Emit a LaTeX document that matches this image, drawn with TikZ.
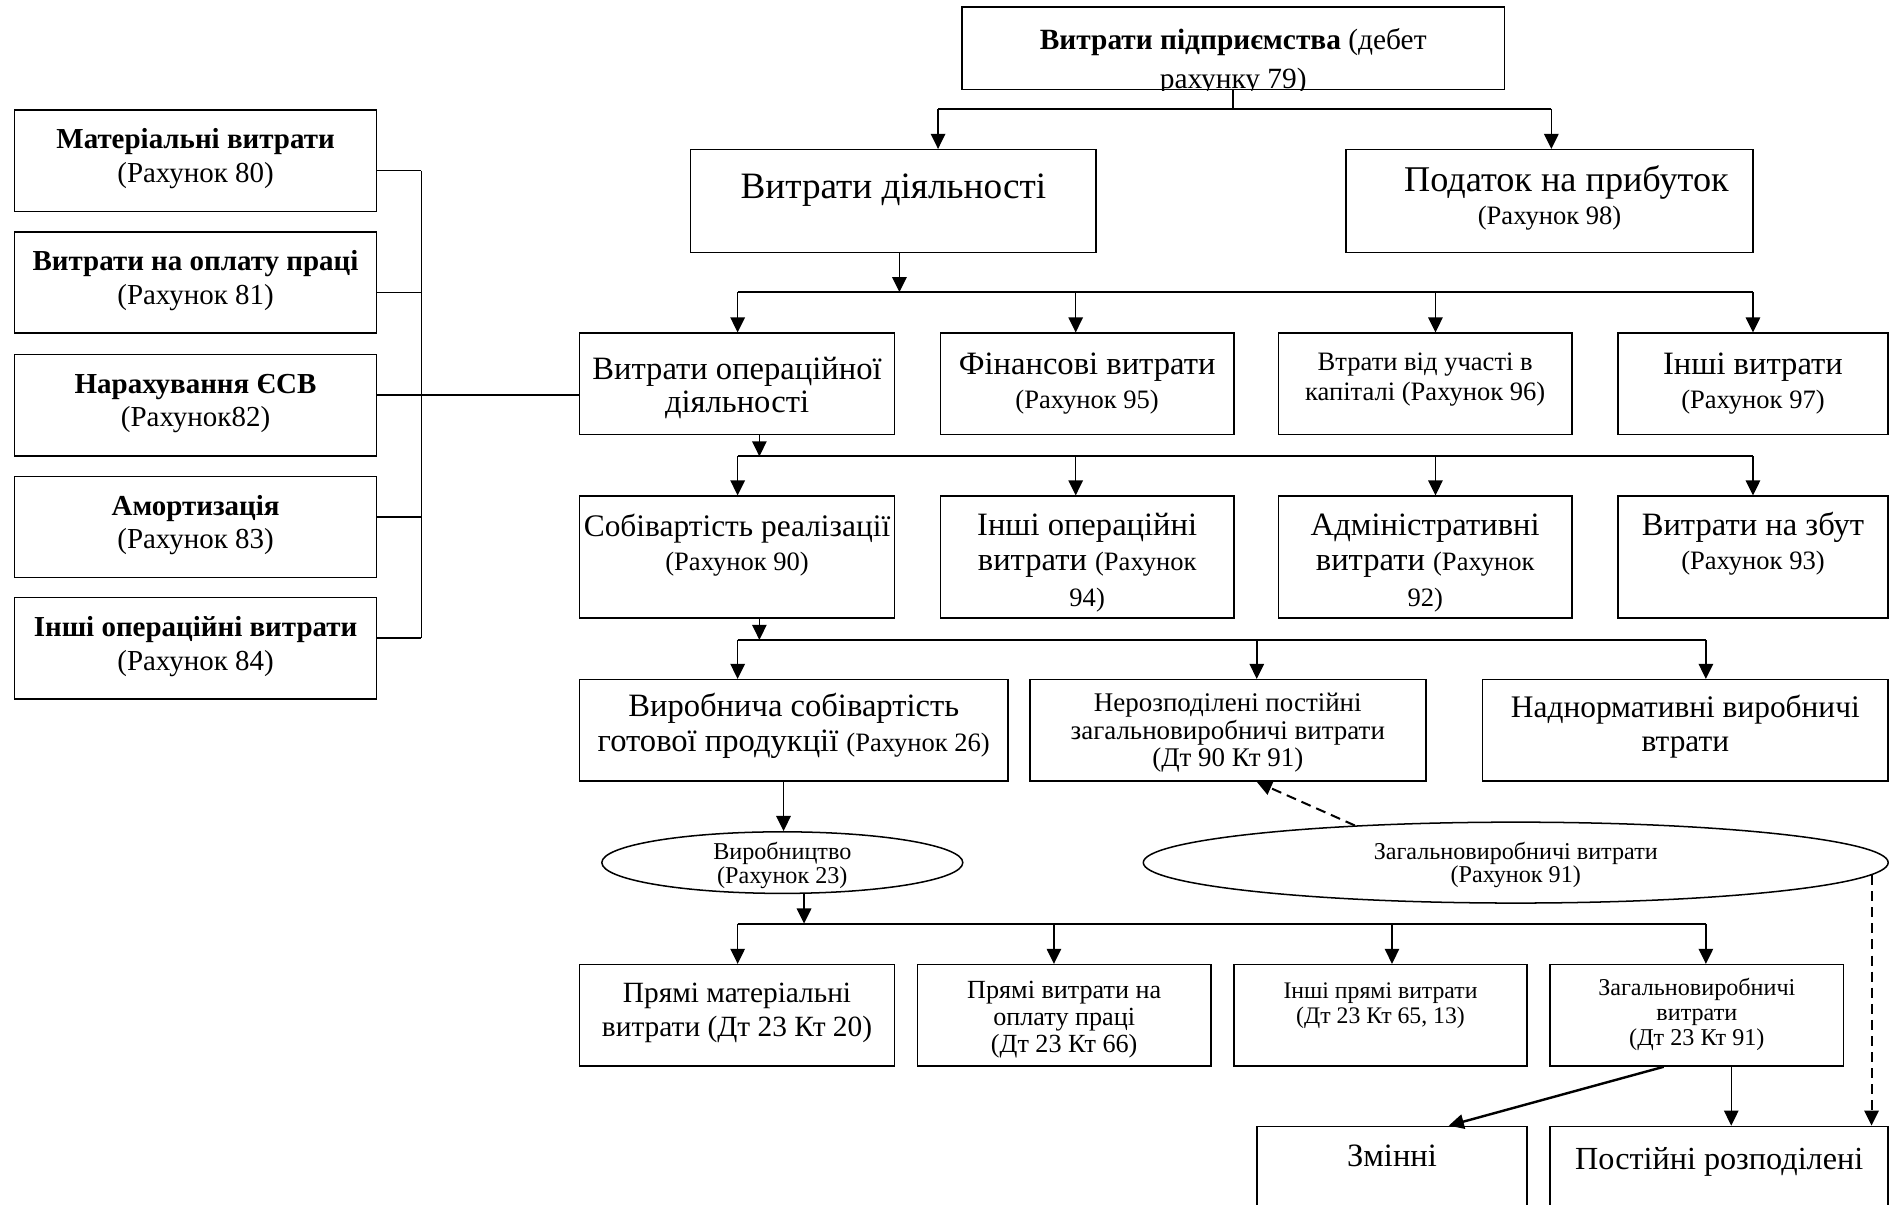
\documentclass[tikz,border=0pt]{standalone}
\usepackage{fontspec}
\setmainfont{Liberation Serif}
\usetikzlibrary{arrows.meta,shapes.geometric,calc}
\newcommand\fs[2]{\fontsize{#1}{#2}\selectfont}
\newcommand\sm{\fs{13.2}{16}}
\newcommand\T[2]{\raisebox{\dimexpr #1pt*6/10 - 0.25em\relax}[0pt][0pt]{\begin{tabular}{@{}c@{}}#2\end{tabular}}}
\begin{document}
\begin{tikzpicture}[x=0.6pt,y=-0.6pt,
  box/.style={draw, line width=0.75pt, inner sep=0pt},
  sz/.style 2 args={minimum width=#1*0.6pt, minimum height=#2*0.6pt},
  ell/.style={draw, ellipse, line width=0.75pt, inner sep=0pt},
  ln/.style={line width=0.75pt},
  bus/.style={line width=1pt},
  arr/.style={line width=0.75pt, -{Triangle[length=7.5pt,width=7.2pt]}},
  darr/.style={line width=1pt, dash pattern=on 5pt off 3pt, -{Triangle[length=7.5pt,width=7.2pt]}}
]
\clip (0,0) rectangle (1568,998);
\fill[white] (0,0) rectangle (1568,998);

% top box (text clipped at its lower border)
\begin{scope}
\clip (790,0) rectangle (1255,74.7);
\node[box, sz={449}{68}, font=\fs{14.6}{19.8}] (top) at (1021.5,40)
  {\T{-10.5}{\textbf{Витрати підприємства} (дебет\\рахунку 79)}};
\end{scope}

% left column
\begin{scope}[every node/.style={box, sz={300}{84}, font=\fs{14.4}{16.8}}]
\node (L1) at (162,133)   {\T{1.5}{\textbf{Матеріальні витрати}\\(Рахунок 80)}};
\node (L2) at (162,234)   {\T{1.5}{\textbf{Витрати на оплату праці}\\(Рахунок 81)}};
\node (L3) at (162,335.5) {\T{1.5}{\textbf{Нарахування ЄСВ}\\(Рахунок82)}};
\node (L4) at (162,436.5) {\T{1.5}{\textbf{Амортизація}\\(Рахунок 83)}};
\node (L5) at (162,537)   {\T{1.5}{\textbf{Інші операційні витрати}\\(Рахунок 84)}};
\end{scope}

% level 1
\node[box, sz={336}{85}, font=\fs{18.5}{22}] (act) at (740,166.5) {\T{10}{Витрати діяльності}};
\node[box, sz={337}{85}, font=\fs{18}{16.8}] (tax) at (1283.5,166.5) {\T{1}{\hspace*{16.8pt}Податок на прибуток\\{\sm(Рахунок 98)}}};

% level 2
\node[box, sz={261}{84}, font=\fs{16.2}{16.2}] (op) at (610.5,318) {\T{-5}{Витрати операційної\\діяльності}};
\node[box, sz={243}{84}, font=\fs{16.2}{16.8}] (fin) at (900.5,318) {\T{-1}{Фінансові витрати\\{\sm(Рахунок 95)}}};
\node[box, sz={243}{84}, font=\fs{13.2}{15}] (loss) at (1180.5,318) {\T{4}{Втрати від участі в\\капіталі (Рахунок 96)}};
\node[box, sz={224}{84}, font=\fs{16.2}{16.8}] (oth) at (1452,318) {\T{-1}{Інші витрати\\{\sm(Рахунок 97)}}};

% level 3
\node[box, sz={261}{101}, font=\fs{15.6}{16.8}] (cost) at (610.5,461.5) {\T{9}{Собівартість реалізації\\{\sm(Рахунок 90)}}};
\node[box, sz={243}{101}, font=\fs{16.2}{17.7}] (oop) at (900.5,461.5) {\T{-6}{Інші операційні\\витрати {\sm(Рахунок}\\{\sm 94)}}};
\node[box, sz={243}{101}, font=\fs{16.2}{17.7}] (adm) at (1180.5,461.5) {\T{-6}{Адміністративні\\витрати {\sm(Рахунок}\\{\sm 92)}}};
\node[box, sz={224}{101}, font=\fs{16.2}{16.8}] (sale) at (1452,461.5) {\T{9}{Витрати на збут\\{\sm(Рахунок 93)}}};

% level 4
\node[box, sz={355}{84}, font=\fs{16.2}{17.4}] (prod) at (657.5,605) {\T{2}{Виробнича собівартість\\готової продукції {\sm(Рахунок 26)}}};
\node[box, sz={328}{84}, font=\fs{13.4}{13.8}] (unal) at (1017,605) {\T{-3}{Нерозподілені постійні\\загальновиробничі витрати\\(Дт 90 Кт 91)}};
\node[box, sz={336}{84}, font=\fs{15.6}{16.8}] (over) at (1396,605) {\T{3}{Наднормативні виробничі\\втрати}};

% ellipses
\node[ell, sz={299}{51}, font=\fs{12}{11.1}] (e1) at (648,714.5) {\T{-3}{Виробництво\\(Рахунок 23)}};
\node[ell, sz={617}{67}, font=\fs{12}{11.4}] (e2) at (1255.5,714.5) {\T{-2.5}{Загальновиробничі витрати\\(Рахунок 91)}};

% level 5
\node[box, sz={261}{84}, font=\fs{14.6}{16.8}] (pm) at (610.5,841) {\T{2}{Прямі матеріальні\\витрати (Дт 23 Кт 20)}};
\node[box, sz={243}{84}, font=\fs{13}{13.5}] (pl) at (881.5,841) {\T{-3.5}{Прямі витрати на\\оплату праці\\(Дт 23 Кт 66)}};
\node[box, sz={243}{84}, font=\fs{11.8}{12.6}] (po) at (1143.5,841) {\T{7.5}{Інші прямі витрати\\(Дт 23 Кт 65, 13)}};
\node[box, sz={243}{84}, font=\fs{12}{12.3}] (gen) at (1405.5,841) {\T{0}{Загальновиробничі\\витрати\\(Дт 23 Кт 91)}};

% level 6 (cut by the lower edge)
\node[box, sz={224}{100}, font=\fs{16.2}{18}] (var) at (1153,983) {\T{22}{Змінні}};
\node[box, sz={280}{100}, font=\fs{16}{18}] (fix) at (1424,983) {\T{20}{Постійні розподілені}};

% ---- connectors ----
% left bus
\coordinate (v1) at (349,141.4);
\coordinate (v2) at (349,242.4);
\coordinate (v3) at (349,327.1);
\coordinate (v4) at (349,428.1);
\coordinate (v5) at (349,528.6);
\draw[ln] (L1.east |- v1) -- (v1);
\draw[ln] (L2.east |- v2) -- (v2);
\draw[ln] (L4.east |- v4) -- (v4);
\draw[ln] (L5.east |- v5) -- (v5);
\draw[ln] (v1) -- (v5);
\draw[ln] (L3.east |- v3) -- (v3 -| op.west);

% top bus
\coordinate (b1a) at (777,90);
\coordinate (b1b) at (1285,90);
\draw[ln] (top.south) -- (top.south |- b1a);
\draw[bus] (b1a) -- (b1b);
\draw[arr] (b1a) -- (b1a |- act.north);
\draw[arr] (b1b) -- (b1b |- tax.north);

% bus 2
\coordinate (u2) at (745,242);
\coordinate (b2a) at (611,242);
\coordinate (b2f) at (891,242);
\coordinate (b2l) at (1189,242);
\coordinate (b2b) at (1452,242);
\draw[arr] (u2 |- act.south) -- (u2);
\draw[bus] (b2a) -- (b2b);
\draw[arr] (b2a) -- (b2a |- op.north);
\draw[arr] (b2f) -- (b2f |- fin.north);
\draw[arr] (b2l) -- (b2l |- loss.north);
\draw[arr] (b2b) -- (b2b |- oth.north);

% bus 3
\coordinate (u3) at (629,378);
\coordinate (b3a) at (611,378);
\coordinate (b3f) at (891,378);
\coordinate (b3l) at (1189,378);
\coordinate (b3b) at (1452,378);
\draw[arr] (u3 |- op.south) -- (u3);
\draw[bus] (b3a) -- (b3b);
\draw[arr] (b3a) -- (b3a |- cost.north);
\draw[arr] (b3f) -- (b3f |- oop.north);
\draw[arr] (b3l) -- (b3l |- adm.north);
\draw[arr] (b3b) -- (b3b |- sale.north);

% bus 4
\coordinate (u4) at (629,530);
\coordinate (b4a) at (611,530);
\coordinate (b4m) at (1041,530);
\coordinate (b4b) at (1413,530);
\draw[arr] (u4 |- cost.south) -- (u4);
\draw[bus] (b4a) -- (b4b);
\draw[arr] (b4a) -- (b4a |- prod.north);
\draw[arr] (b4m) -- (b4m |- unal.north);
\draw[arr] (b4b) -- (b4b |- over.north);

% production -> ellipse
\coordinate (u5) at (649,660);
\draw[arr] (u5 |- prod.south) -- (u5 |- e1.north);

% dashed links from e2
\coordinate (e2l) at (e2.167.6);
\coordinate (e2r) at (e2.-2.2);
\coordinate (d1) at (1041,647);
\draw[darr] (e2l) -- (d1 |- unal.south);
\draw[darr] (e2r) -- (e2r |- fix.north);

% bus 5
\coordinate (u6) at (666,765);
\coordinate (b5a) at (611,765);
\coordinate (b5p) at (873,765);
\coordinate (b5o) at (1153,765);
\coordinate (b5b) at (1413,765);
\draw[arr] (e1.south -| u6) -- (u6);
\draw[bus] (b5a) -- (b5b);
\draw[arr] (b5a) -- (b5a |- pm.north);
\draw[arr] (b5p) -- (b5p |- pl.north);
\draw[arr] (b5o) -- (b5o |- po.north);
\draw[arr] (b5b) -- (b5b |- gen.north);

% general production -> variable / fixed
\coordinate (g1) at (1378,883);
\coordinate (g2) at (1434,883);
\coordinate (w1) at (1200,933);
\draw[arr, line width=1.2pt] (g1 |- gen.south) -- (w1 |- var.north);
\draw[arr] (g2 |- gen.south) -- (g2 |- fix.north);
\end{tikzpicture}
\end{document}
